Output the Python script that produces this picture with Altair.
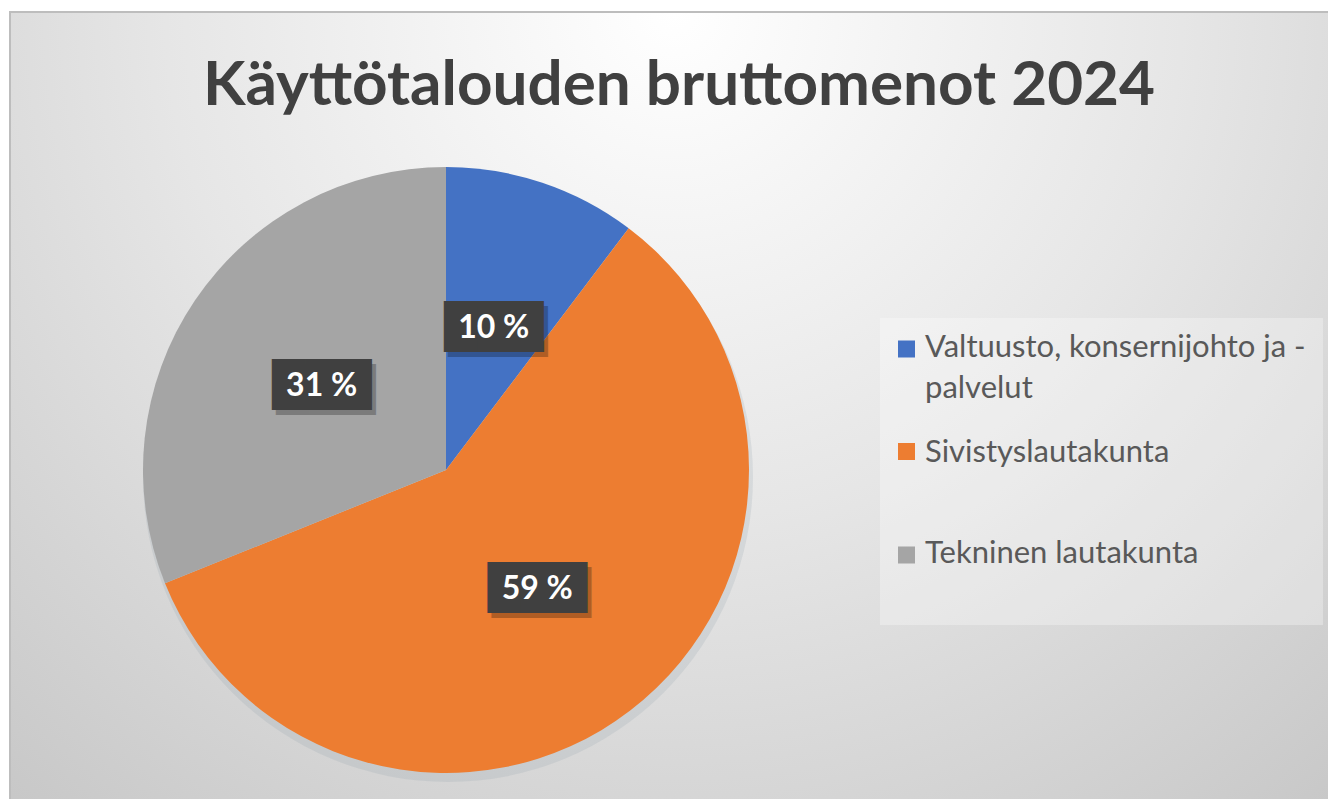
import altair as alt
import pandas as pd

# ---- data ----
categories = ["Valtuusto, konsernijohto ja -palvelut", "Sivistyslautakunta", "Tekninen lautakunta"]
shares = [10.3, 58.6, 31.1]
share_labels = ["10 %", "59 %", "31 %"]
legend_labels = ["Valtuusto, konsernijohto ja -\npalvelut", "Sivistyslautakunta", "Tekninen lautakunta"]
colors = ["#4472C4", "#ED7D31", "#A5A5A5"]
title_text = "Käyttötalouden bruttomenot 2024"

df = pd.DataFrame({
    "category": categories,
    "share": shares,
    "label": share_labels,
    "legend": legend_labels,
    "order": list(range(len(categories))),
})

W, H = 1320, 791
CX, CY, R = 438, 462, 303
FONT = "Lato, Open Sans, sans-serif"

color_scale = alt.Scale(domain=categories, range=colors)
base = alt.Chart(df)

bg_df = pd.DataFrame({"a": [0]})
background = alt.Chart(bg_df).mark_rect(
    fill=alt.RadialGradient(
        gradient="radial", x1=0.5, y1=0.2, r1=0.0, x2=0.5, y2=0.2, r2=0.85,
        stops=[alt.GradientStop(offset=0, color="#ffffff"),
               alt.GradientStop(offset=0.45, color="#e6e6e6"),
               alt.GradientStop(offset=1, color="#c2c2c2")]),
    stroke="#bdbdbd", strokeWidth=2,
).encode(x=alt.value(2), x2=alt.value(W + 10), y=alt.value(4), y2=alt.value(H + 10))

title = alt.Chart(bg_df).mark_text(
    text=title_text, font=FONT, fontSize=62, fontWeight="bold", color="#404040",
    align="center", baseline="alphabetic",
).encode(x=alt.value(671), y=alt.value(97))

shadow = alt.Chart(bg_df).mark_arc(outerRadius=R + 2, color="#8d9aa6", opacity=0.18).encode(
    theta=alt.value(6.2832), x=alt.value(CX + 2), y=alt.value(CY + 7))

pie = base.mark_arc(outerRadius=R).encode(
    theta=alt.Theta("share:Q", stack=True),
    color=alt.Color("category:N", scale=color_scale, legend=None),
    order=alt.Order("order:Q"),
    x=alt.value(CX), y=alt.value(CY),
)

def polar_text(**kw):
    return base.mark_text(radius=150, **kw).encode(
        theta=alt.Theta("share:Q", stack=True),
        order=alt.Order("order:Q"),
        x=alt.value(CX), y=alt.value(CY),
    )

BLOCK = "███"
box_shadow = polar_text(text=BLOCK, font="DejaVu Sans", fontSize=43, color="#000000",
                        opacity=0.25, dx=4, dy=5, align="center", baseline="middle")
box = polar_text(text=BLOCK, font="DejaVu Sans", fontSize=43, color="#404040",
                 align="center", baseline="middle")
labels = base.mark_text(radius=150, font=FONT, fontSize=32, fontWeight="bold", color="#ffffff",
                        align="center", baseline="middle").encode(
    theta=alt.Theta("share:Q", stack=True),
    order=alt.Order("order:Q"),
    text="label:N",
    x=alt.value(CX), y=alt.value(CY),
)

legend_box = alt.Chart(bg_df).mark_rect(fill="#ffffff", opacity=0.3).encode(
    x=alt.value(872), x2=alt.value(1315), y=alt.value(310), y2=alt.value(617))

sq_y = [341, 443.5, 547]
txt_y = [349, 454, 555]
legend_layers = []
for i, cat in enumerate(categories):
    d = base.transform_filter(alt.datum.category == cat)
    legend_layers.append(d.mark_square(size=289, opacity=1).encode(
        color=alt.Color("category:N", scale=color_scale, legend=None),
        x=alt.value(898.5), y=alt.value(sq_y[i])))
    legend_layers.append(d.mark_text(font=FONT, fontSize=31, color="#595959", align="left",
                                     baseline="alphabetic", lineBreak="\n", lineHeight=41).encode(
        text="legend:N", x=alt.value(917), y=alt.value(txt_y[i])))

chart = alt.layer(background, title, legend_box, shadow, pie, box_shadow, box, labels,
                  *legend_layers).properties(
    width=W, height=H, autosize=alt.AutoSizeParams(type="fit", contains="padding"),
    padding=0, background="#ffffff",
).configure_view(stroke=None)

chart.save("out.html", embed_options={"renderer": "svg", "actions": False})
